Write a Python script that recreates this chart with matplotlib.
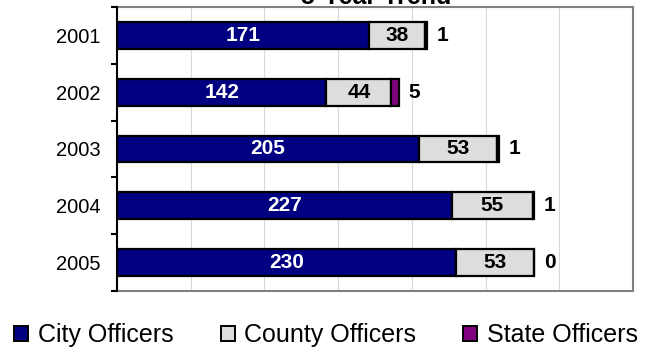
import matplotlib
matplotlib.use("Agg")
import matplotlib.pyplot as plt
from matplotlib.patches import Rectangle
import numpy as np

plt.rcParams['font.family'] = ['Liberation Sans', 'DejaVu Sans']

years = ["2001", "2002", "2003", "2004", "2005"]
city = [171, 142, 205, 227, 230]
county = [38, 44, 53, 55, 53]
state = [1, 5, 1, 1, 0]

city_color = "#000080"
county_color = "#DDDDDD"
state_color = "#800080"

fig = plt.figure(figsize=(6.47, 3.5), dpi=100)
ax = fig.add_axes([117/647, 1 - 291/350, 516/647, 284/350])

y = np.arange(len(years))
h = 0.47
city_arr = np.array(city)
county_arr = np.array(county)
state_arr = np.array(state)

bar_kw = dict(height=h, edgecolor="black", linewidth=1.6, zorder=3)
ax.barh(y, city_arr, color=city_color, **bar_kw)
ax.barh(y, county_arr, left=city_arr, color=county_color, **bar_kw)
ax.barh(y, state_arr, left=city_arr + county_arr, color=state_color, **bar_kw)

for i in range(len(years)):
    ax.text(city[i] / 2, i, str(city[i]), color="white", fontsize=15, fontweight="bold",
            ha="center", va="center", zorder=4)
    ax.text(city[i] + county[i] / 2, i, str(county[i]), color="black", fontsize=15,
            fontweight="bold", ha="center", va="center", zorder=4)
    total = city[i] + county[i] + state[i]
    ax.annotate(str(state[i]), xy=(total, i), xytext=(7, 0), textcoords="offset points",
                color="black", fontsize=15, fontweight="bold", ha="left", va="center", zorder=4)

ax.set_xlim(0, 350)
ax.set_ylim(len(years) - 0.5, -0.5)
ax.set_xticks(np.arange(50, 351, 50))
ax.set_xticklabels([])
ax.tick_params(axis="x", length=0)
ax.grid(axis="x", color="#D9D9D9", linewidth=0.8, zorder=0)

ax.set_yticks(y)
ax.set_yticklabels(years, fontsize=14.5)
ax.set_yticks(np.arange(-0.5, len(years), 1.0), minor=True)
ax.tick_params(axis="y", which="major", length=0, pad=12)
ax.tick_params(axis="y", which="minor", length=4.5, width=1.5, color="black")

for side in ["top", "right", "bottom"]:
    ax.spines[side].set_color("#808080")
    ax.spines[side].set_linewidth(1.5)
ax.spines["left"].set_color("black")
ax.spines["left"].set_linewidth(1.5)
ax.spines["left"].set_zorder(5)

fig.text(376/647, 1 - 4/350, "5-Year Trend", fontsize=18, fontweight="bold",
         ha="center", va="baseline")

handles = [Rectangle((0, 0), 1, 1, facecolor=c, edgecolor="black", linewidth=1.4)
           for c in (city_color, county_color, state_color)]
fig.legend(handles, ["City Officers", "County Officers", "State Officers"],
           loc="center", bbox_to_anchor=(326/647, 1 - 335/350), ncol=3, frameon=False,
           fontsize=18, handlelength=0.56, handleheight=0.56, handletextpad=0.37,
           columnspacing=1.9, borderaxespad=0, borderpad=0)

fig.savefig("out.png", dpi=100)
